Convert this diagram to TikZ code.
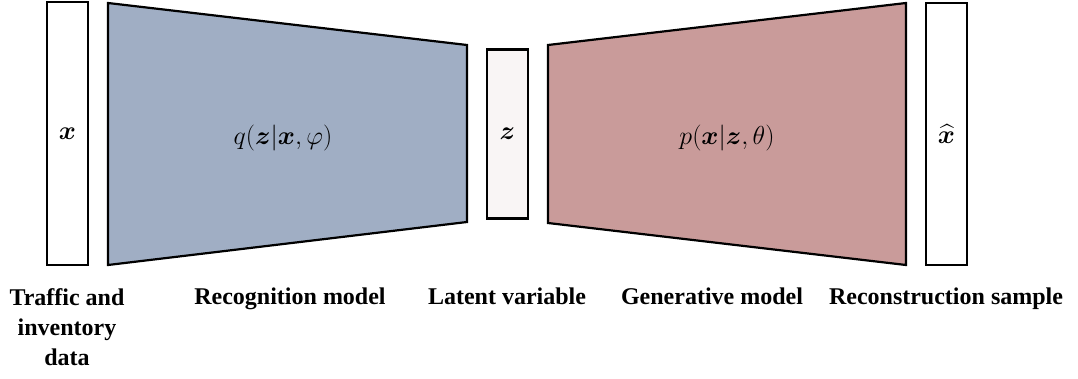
\RequirePackage{fix-cm}
\documentclass[tikz,border=0pt]{standalone}
\usepackage{amsmath}
\usepackage{bm}
\usepackage{fontspec}
\setmainfont{Liberation Serif}
\definecolor{encblue}{RGB}{160,174,196}
\definecolor{decred}{RGB}{201,155,154}
\definecolor{latentfill}{RGB}{249,245,245}
\tikzset{
  vecbox/.style={draw=black, line width=2.2pt, fill=white, minimum width=41pt, inner sep=0pt},
  netshape/.style={draw=black, line width=2.2pt, line join=miter},
  mathlabel/.style={font=\fontsize{26}{30}\selectfont},
  caption/.style={font=\fontsize{24}{30}\selectfont\bfseries, align=center, inner sep=0pt}
}
\begin{document}
\begin{tikzpicture}[x=1pt,y=-1pt]
\useasboundingbox (0,0) rectangle (1078,379);
% input box
\node[vecbox, minimum height=263pt, mathlabel] (xin) at (67.5,133.5) {$\bm{x}$};
% recognition model
\draw[netshape, fill=encblue] (108,3) -- (467,45) -- (467,222) -- (108,265) -- cycle;
\node[mathlabel] (qlab) at (283,138) {$q(\bm{z}|\bm{x},\varphi)$};
% latent box
\node[vecbox, fill=latentfill, minimum height=169pt, mathlabel] (zbox) at (507.5,134) {$\bm{z}$};
% generative model
\draw[netshape, fill=decred] (548,45) -- (906,3) -- (906,265) -- (548,223) -- cycle;
\node[mathlabel] (plab) at (727,138) {$p(\bm{x}|\bm{z},\theta)$};
% output box
\node[vecbox, minimum height=262pt, mathlabel] (xout) at (946.5,134) {$\widehat{\bm{x}}$};
% captions
\node[caption, anchor=north] (c1) at (67,288) {Traffic and\\inventory\\data};
\node[caption, anchor=north] (c2) at (290,288) {Recognition model};
\node[caption, anchor=north] (c3) at (507,288) {Latent variable};
\node[caption, anchor=north] (c4) at (712,288) {Generative model};
\node[caption, anchor=north] (c5) at (946,288) {Reconstruction sample};
\end{tikzpicture}
\end{document}
